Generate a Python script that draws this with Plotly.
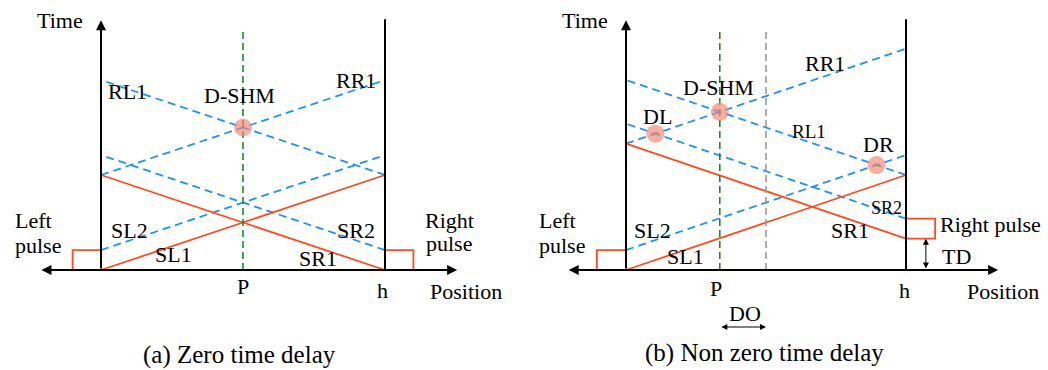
import plotly.graph_objects as go

# ---------------- data (position units: string length h = 10, time units) --------------
H = 10.0
# panel (a): zero time delay
a_SL1_x, a_SL1_t = [0, 10], [0, 10]
a_SR1_x, a_SR1_t = [10, 0], [0, 10]
a_SL2_x, a_SL2_t = [0, 10], [2.1, 12.1]
a_SR2_x, a_SR2_t = [10, 0], [2.1, 12.1]
a_RR1_x, a_RR1_t = [0, 10], [10, 20]
a_RL1_x, a_RL1_t = [10, 0], [10, 20]
a_lp_x, a_lp_t = [-1.0, -1.0, 0], [0, 2.1, 2.1]
a_rp_x, a_rp_t = [10, 11.0, 11.0], [2.1, 2.1, 0]
a_P = 5.0

# panel (b): non zero time delay
b_SL1_x, b_SL1_t = [0, 10], [0, 10]
b_SR1_x, b_SR1_t = [10, 0], [3.3, 13.3]
b_SL2_x, b_SL2_t = [0, 10], [2.1, 12.1]
b_SR2_x, b_SR2_t = [10, 0], [5.4, 15.4]
b_RR1_x, b_RR1_t = [0, 10], [13.3, 23.3]
b_RL1_x, b_RL1_t = [10, 0], [10, 20]
b_lp_x, b_lp_t = [-1.04, -1.04, 0], [0, 2.1, 2.1]
b_rp_x, b_rp_t = [10, 11.04, 11.04, 10], [3.3, 3.3, 5.4, 5.4]
b_TD = 3.3
b_mid = 5.0

# ---------------- helpers -------------------------------------------------------------
def intersect(l1, l2):
    (x1, t1), (x2, t2) = l1, l2
    s1 = (t1[1] - t1[0]) / (x1[1] - x1[0])
    s2 = (t2[1] - t2[0]) / (x2[1] - x2[0])
    c1 = t1[0] - s1 * x1[0]
    c2 = t2[0] - s2 * x2[0]
    x = (c2 - c1) / (s1 - s2)
    return x, s1 * x + c1

RED = "#FF4B1F"
BLUE = "#1E90FF"
GREEN = "#1E8A1E"
GRAY = "#9A9A9A"
PINK = "rgba(245,135,115,0.68)"
FONT = "Liberation Serif"
FS = 22

fig = go.Figure()

def line(xs, ts, ax, color, width=1.8, dash=None):
    fig.add_trace(go.Scatter(x=xs, y=ts, xaxis=ax, yaxis="y", mode="lines",
                             line=dict(color=color, width=width, dash=dash),
                             hoverinfo="skip", showlegend=False))

BD = "8px,5px"
# panel a
for xs, ts in [(a_SL2_x, a_SL2_t), (a_SR2_x, a_SR2_t), (a_RR1_x, a_RR1_t), (a_RL1_x, a_RL1_t)]:
    line(xs, ts, "x", BLUE, 1.8, BD)
for xs, ts in [(a_SL1_x, a_SL1_t), (a_SR1_x, a_SR1_t), (a_lp_x, a_lp_t), (a_rp_x, a_rp_t)]:
    line(xs, ts, "x", RED, 1.8)
line([a_P, a_P], [0, 25.4], "x", GREEN, 1.6, "7px,4px")
line([H, H], [0, 26.4], "x", "black", 2)

# panel b
for xs, ts in [(b_SL2_x, b_SL2_t), (b_SR2_x, b_SR2_t), (b_RR1_x, b_RR1_t), (b_RL1_x, b_RL1_t)]:
    line(xs, ts, "x2", BLUE, 1.8, BD)
for xs, ts in [(b_SL1_x, b_SL1_t), (b_SR1_x, b_SR1_t), (b_lp_x, b_lp_t), (b_rp_x, b_rp_t)]:
    line(xs, ts, "x2", RED, 1.8)
b_P, _ = intersect((b_RR1_x, b_RR1_t), (b_RL1_x, b_RL1_t))
line([b_P, b_P], [0, 25.4], "x2", GREEN, 1.6, "7px,4px")
line([b_mid, b_mid], [0, 25.4], "x2", GRAY, 1.6, "7px,4px")
line([H, H], [0, 26.4], "x2", "black", 2)

# detection points
a_pts = [intersect((a_RR1_x, a_RR1_t), (a_RL1_x, a_RL1_t))]
b_pts = [intersect((b_RR1_x, b_RR1_t), (b_RL1_x, b_RL1_t)),
         intersect((b_RR1_x, b_RR1_t), (b_SR2_x, b_SR2_t)),
         intersect((b_RL1_x, b_RL1_t), (b_SL2_x, b_SL2_t))]
for ax, pts in [("x", a_pts), ("x2", b_pts)]:
    fig.add_trace(go.Scatter(x=[p[0] for p in pts], y=[p[1] for p in pts], xaxis=ax, yaxis="y",
                             mode="markers", marker=dict(size=18, color=PINK, line=dict(width=0)),
                             hoverinfo="skip", showlegend=False))

ann = []

def arrow(ax, x0, y0, x1, y1, side="end", width=2, size=1.0):
    ann.append(dict(xref=ax, yref="y", axref=ax, ayref="y", x=x1, y=y1, ax=x0, ay=y0,
                    showarrow=True, arrowhead=2, arrowside=side, arrowsize=size,
                    arrowwidth=width, arrowcolor="black", text="", standoff=0, startstandoff=0))

def text(ax, x, y, s, size=FS, xanchor="center"):
    ann.append(dict(xref=ax, yref="y", x=x, y=y, text=s, showarrow=False, xanchor=xanchor,
                    yanchor="middle", font=dict(family=FONT, size=size, color="black")))

# axes (a)
arrow("x", 0, 0, 0, 26.3)
arrow("x", -2.15, 0, 12.54, 0, side="end+start")
# axes (b)
arrow("x2", 0, 0, 0, 26.3)
arrow("x2", -2.1, 0, 13.29, 0, side="end+start")
arrow("x2", 10.71, 0, 10.71, b_TD, side="end+start", width=1, size=1.2)
arrow("x2", b_P, -6.0, b_mid, -6.0, side="end+start", width=1, size=1.2)

# labels (a)
text("x", -0.56, 26.3, "Time", xanchor="right")
text("x", 0.95, 18.84, "RL1")
text("x", 4.86, 18.42, "D-SHM")
text("x", 8.98, 20.0, "RR1")
text("x", -3.1, 5.16, "Left", xanchor="left")
text("x", -3.1, 2.6, "pulse", xanchor="left")
text("x", 1.02, 4.21, "SL2")
text("x", 2.57, 1.58, "SL1")
text("x", 7.64, 1.26, "SR1")
text("x", 8.98, 4.21, "SR2")
text("x", 11.34, 5.16, "Right", xanchor="left")
text("x", 11.36, 2.74, "pulse", xanchor="left")
text("x", 5.0, -1.7, "P")
text("x", 9.9, -2.2, "h")
text("x", 11.51, -2.3, "Position", xanchor="left")
text("x", 4.86, -8.95, "(a) Zero time delay", size=25)

# labels (b)
text("x2", -0.57, 26.3, "Time", xanchor="right")
text("x2", 7.1, 21.7, "RR1")
text("x2", 3.29, 19.16, "D-SHM")
text("x2", 1.14, 16.2, "DL")
text("x2", 6.54, 14.63, "RL1", size=19)
text("x2", 9.0, 13.26, "DR")
text("x2", 9.32, 6.53, "SR2", size=18)
text("x2", 11.14, 4.74, "Right pulse", xanchor="left")
text("x2", 8.0, 4.21, "SR1")
text("x2", 0.96, 4.21, "SL2")
text("x2", 2.11, 1.37, "SL1")
text("x2", -3.18, 5.16, "Left", xanchor="left")
text("x2", -3.18, 2.53, "pulse", xanchor="left")
text("x2", 11.79, 1.47, "TD")
text("x2", 3.21, -1.9, "P")
text("x2", 9.96, -2.2, "h")
text("x2", 12.1, -2.3, "Position", xanchor="left")
text("x2", 4.25, -4.63, "DO")
text("x2", 4.96, -8.74, "(b) Non zero time delay", size=25)

W, HGT = 1048, 370
split = 520
ya_px_per_t = 9.5
y0_px = 270
fig.update_layout(
    width=W, height=HGT, margin=dict(l=0, r=0, t=0, b=0),
    paper_bgcolor="white", plot_bgcolor="white", showlegend=False,
    xaxis=dict(domain=[0, split / W], range=[-101 / 28.4, (split - 101) / 28.4],
               visible=False, fixedrange=True),
    xaxis2=dict(domain=[split / W, 1], range=[(split - 626) / 28.0, (W - 626) / 28.0],
                visible=False, anchor="y", fixedrange=True),
    yaxis=dict(domain=[0, 1], range=[-(HGT - y0_px) / ya_px_per_t, y0_px / ya_px_per_t],
               visible=False, fixedrange=True),
    annotations=ann,
)
fig.write_html("out.html")
